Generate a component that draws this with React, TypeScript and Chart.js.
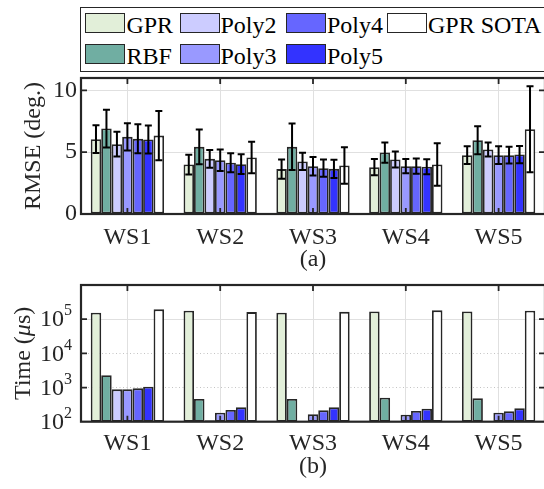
import React, { useEffect, useRef } from "react";
import { Chart, registerables } from "chart.js";

Chart.register(...registerables);

// ---------- data ----------
const CATEGORIES = ["WS1", "WS2", "WS3", "WS4", "WS5"];
const SERIES_NAMES = ["GPR", "RBF", "Poly2", "Poly3", "Poly4", "Poly5", "GPR SOTA"];
const SERIES_COLORS = ["#E2EFD9", "#70AEA2", "#CCCCFF", "#9999FF", "#6666FF", "#3333FF", "#FFFFFF"];

// RMSE (deg.) means
const RMSE_GPR = [6.05, 4.0, 3.63, 3.79, 4.76];
const RMSE_RBF = [6.91, 5.43, 5.43, 4.97, 5.97];
const RMSE_POLY2 = [5.65, 4.46, 4.25, 4.41, 5.22];
const RMSE_POLY3 = [6.24, 4.35, 3.87, 3.87, 4.76];
const RMSE_POLY4 = [6.08, 4.14, 3.71, 3.87, 4.76];
const RMSE_POLY5 = [6.02, 4.03, 3.65, 3.82, 4.81];
const RMSE_SOTA = [6.34, 4.57, 3.92, 4.0, 6.85];

// RMSE error (half-length of error bar)
const ERR_GPR = [1.12, 0.8, 0.78, 0.65, 0.72];
const ERR_RBF = [1.53, 1.4, 1.88, 0.82, 1.13];
const ERR_POLY2 = [1.0, 0.72, 0.7, 0.65, 0.57];
const ERR_POLY3 = [1.1, 0.87, 0.75, 0.58, 0.72];
const ERR_POLY4 = [1.17, 0.77, 0.7, 0.62, 0.68];
const ERR_POLY5 = [1.13, 0.8, 0.74, 0.6, 0.7];
const ERR_SOTA = [2.0, 1.28, 1.47, 1.72, 3.48];

// Time (µs)
const TIME_GPR = [155000, 176000, 155000, 169000, 169000];
const TIME_RBF = [2280, 460, 460, 503, 483];
const TIME_POLY2 = [885, 110, 105, 105, 105];
const TIME_POLY3 = [885, 183, 164, 160, 183];
const TIME_POLY4 = [947, 220, 215, 205, 201];
const TIME_POLY5 = [1055, 263, 263, 240, 246];
const TIME_SOTA = [194000, 161000, 164000, 181000, 176000];

const RMSE_SERIES = [RMSE_GPR, RMSE_RBF, RMSE_POLY2, RMSE_POLY3, RMSE_POLY4, RMSE_POLY5, RMSE_SOTA];
const ERR_SERIES = [ERR_GPR, ERR_RBF, ERR_POLY2, ERR_POLY3, ERR_POLY4, ERR_POLY5, ERR_SOTA];
const TIME_SERIES = [TIME_GPR, TIME_RBF, TIME_POLY2, TIME_POLY3, TIME_POLY4, TIME_POLY5, TIME_SOTA];

const RMSE_MIN = 0;
const RMSE_MAX = 11;
const RMSE_TICKS = [0, 5, 10];
const TIME_MIN = 1e2;
const TIME_MAX = 1e6;
const TIME_TICKS = [1e2, 1e3, 1e4, 1e5, 1e6];
const TIME_LABEL_EXPONENTS = [2, 3, 4, 5];

const RMSE_TITLE = "RMSE (deg.)";
const PANEL_A = "(a)";
const PANEL_B = "(b)";

// legend layout: rows of series indices (column-major as in the figure)
const LEGEND_ROWS = [
  [0, 2, 4, 6],
  [1, 3, 5],
];

// ---------- styles ----------
const FONT = '"Liberation Serif", "Times New Roman", serif';
const TEXT = "#262626";
const AXIS = "#262626";
const GRID = "#e0e0e0";
const GRID_DOT = "#c4c4c4";
const FS = 24;

function framePlugin(yTicks: number[]) {
  return {
    id: "frame",
    afterDraw(chart: any) {
      const { ctx, chartArea: a, scales } = chart;
      ctx.save();
      ctx.strokeStyle = AXIS;
      ctx.lineWidth = 1.8;
      const L = 6;
      ctx.beginPath();
      CATEGORIES.forEach((_, i) => {
        const x = scales.x.getPixelForValue(i);
        ctx.moveTo(x, a.bottom);
        ctx.lineTo(x, a.bottom - L);
        ctx.moveTo(x, a.top);
        ctx.lineTo(x, a.top + L);
      });
      yTicks.forEach((v) => {
        const y = scales.y.getPixelForValue(v);
        ctx.moveTo(a.left, y);
        ctx.lineTo(a.left + L, y);
        ctx.moveTo(a.right, y);
        ctx.lineTo(a.right - L, y);
      });
      ctx.stroke();
      ctx.lineWidth = 2.2;
      ctx.strokeRect(a.left, a.top, a.right - a.left, a.bottom - a.top);
      ctx.restore();
    },
  };
}

const errorBarPlugin = {
  id: "errorBars",
  afterDatasetsDraw(chart: any) {
    const { ctx, scales } = chart;
    ctx.save();
    ctx.strokeStyle = "#000";
    ctx.lineWidth = 2;
    const cap = 3.5;
    ERR_SERIES.forEach((errs, i) => {
      const meta = chart.getDatasetMeta(i);
      meta.data.forEach((bar: any, j: number) => {
        const m = RMSE_SERIES[i][j];
        const e = errs[j];
        const x = bar.x;
        const yt = scales.y.getPixelForValue(m + e);
        const yb = scales.y.getPixelForValue(m - e);
        ctx.beginPath();
        ctx.moveTo(x, yt);
        ctx.lineTo(x, yb);
        ctx.moveTo(x - cap, yt);
        ctx.lineTo(x + cap, yt);
        ctx.moveTo(x - cap, yb);
        ctx.lineTo(x + cap, yb);
        ctx.stroke();
      });
    });
    ctx.restore();
  },
};

const logLabelPlugin = {
  id: "logLabels",
  afterDraw(chart: any) {
    const { ctx, scales, chartArea: a } = chart;
    ctx.save();
    ctx.fillStyle = TEXT;
    ctx.textBaseline = "middle";
    const right = 72;
    TIME_LABEL_EXPONENTS.forEach((p) => {
      const y = scales.y.getPixelForValue(Math.pow(10, p));
      ctx.font = `16px ${FONT}`;
      const ew = ctx.measureText(String(p)).width;
      ctx.textAlign = "left";
      ctx.fillText(String(p), right - ew, y - 8);
      ctx.font = `${FS}px ${FONT}`;
      ctx.textAlign = "right";
      ctx.fillText("10", right - ew, y + 1);
    });
    // y title: Time (µs) with italic µ
    const parts = [
      { t: "Time (", f: `${FS}px ${FONT}` },
      { t: "\u03BC", f: `italic ${FS}px ${FONT}` },
      { t: "s)", f: `${FS}px ${FONT}` },
    ];
    let w = 0;
    const ws = parts.map((p) => {
      ctx.font = p.f;
      const m = ctx.measureText(p.t).width;
      w += m;
      return m;
    });
    ctx.translate(23.5, (a.top + a.bottom) / 2);
    ctx.rotate(-Math.PI / 2);
    ctx.textAlign = "left";
    let x = -w / 2;
    parts.forEach((p, i) => {
      ctx.font = p.f;
      ctx.fillText(p.t, x, 0);
      x += ws[i];
    });
    ctx.restore();
  },
};

function datasets(series: number[][]) {
  return SERIES_NAMES.map((name, i) => ({
    label: name,
    data: series[i],
    backgroundColor: SERIES_COLORS[i],
    borderColor: "#262626",
    borderWidth: 1.8,
    borderSkipped: false as any,
    categoryPercentage: 0.79,
    barPercentage: 1,
  }));
}

const tickFont = { family: FONT, size: FS, lineHeight: 1.2 };

export default function App() {
  const refA = useRef<HTMLCanvasElement>(null);
  const refB = useRef<HTMLCanvasElement>(null);

  useEffect(() => {
    const chartA = new Chart(refA.current as HTMLCanvasElement, {
      type: "bar",
      data: { labels: CATEGORIES, datasets: datasets(RMSE_SERIES) as any },
      options: {
        responsive: false,
        animation: false,
        events: [],
        layout: { padding: { left: 0, right: 1, top: 78, bottom: 0 } },
        plugins: { legend: { display: false }, tooltip: { enabled: false } },
        scales: {
          x: {
            grid: { offset: false, color: GRID, lineWidth: 1, drawTicks: false },
            border: { display: false },
            ticks: { color: TEXT, font: tickFont, padding: 9.1, maxRotation: 0, autoSkip: false },
            title: { display: true, text: PANEL_A, color: TEXT, font: tickFont, padding: { top: 0, bottom: 0.6 } },
            afterFit(s: any) {
              s.height = 61;
            },
          },
          y: {
            min: RMSE_MIN,
            max: RMSE_MAX,
            afterBuildTicks(s: any) {
              s.ticks = RMSE_TICKS.map((v) => ({ value: v }));
            },
            grid: { color: GRID, lineWidth: 1, drawTicks: false },
            border: { display: false },
            ticks: { color: TEXT, font: tickFont, padding: 4 },
            title: { display: true, text: RMSE_TITLE, color: TEXT, font: tickFont, padding: { top: 19.6, bottom: 0 } },
            afterFit(s: any) {
              s.width = 81;
            },
          },
        },
      } as any,
      plugins: [errorBarPlugin, framePlugin([5, 10])],
    });

    const chartB = new Chart(refB.current as HTMLCanvasElement, {
      type: "bar",
      data: { labels: CATEGORIES, datasets: datasets(TIME_SERIES) as any },
      options: {
        responsive: false,
        animation: false,
        events: [],
        layout: { padding: { left: 0, right: 1, top: 10, bottom: 0 } },
        plugins: { legend: { display: false }, tooltip: { enabled: false } },
        scales: {
          x: {
            grid: { offset: false, color: GRID, lineWidth: 1, drawTicks: false },
            border: { display: false },
            ticks: { color: TEXT, font: tickFont, padding: 7.4, maxRotation: 0, autoSkip: false },
            title: { display: true, text: PANEL_B, color: TEXT, font: tickFont, padding: { top: 0, bottom: 7.6 } },
            afterFit(s: any) {
              s.height = 67.3;
            },
          },
          y: {
            type: "logarithmic",
            min: TIME_MIN,
            max: TIME_MAX,
            afterBuildTicks(s: any) {
              s.ticks = TIME_TICKS.map((v) => ({ value: v }));
            },
            grid: {
              lineWidth: 1,
              drawTicks: false,
              color: (c: any) => (c.tick && (c.tick.value === 1e3 || c.tick.value === 1e4) ? GRID_DOT : GRID),
            },
            border: {
              display: false,
              dash: (c: any) => (c.tick && (c.tick.value === 1e3 || c.tick.value === 1e4) ? [1, 2.5] : []),
            },
            ticks: { display: false },
            afterFit(s: any) {
              s.width = 81;
            },
          },
        },
      } as any,
      plugins: [logLabelPlugin, framePlugin([1e3, 1e4, 1e5])],
    });

    return () => {
      chartA.destroy();
      chartB.destroy();
    };
  }, []);

  const colLeft = [85.4, 179.5, 286, 387];
  const rowTop = [13.3, 44];

  return (
    <div
      style={{
        position: "fixed",
        left: 0,
        top: 0,
        width: 544,
        height: 489,
        overflow: "hidden",
        background: "#fff",
      }}
    >
      <canvas
        ref={refA}
        width={546}
        height={275}
        style={{ position: "absolute", left: 0, top: 0, width: 546, height: 275 }}
      />
      <canvas
        ref={refB}
        width={546}
        height={214}
        style={{ position: "absolute", left: 0, top: 275, width: 546, height: 214 }}
      />
      <div
        style={{
          position: "absolute",
          left: 80,
          top: 7,
          width: 480,
          height: 65,
          border: "1.3px solid #262626",
          boxSizing: "border-box",
          background: "#fff",
        }}
      />
      {LEGEND_ROWS.map((row, r) =>
        row.map((si, c) => (
          <div
            key={si}
            style={{
              position: "absolute",
              left: colLeft[c],
              top: rowTop[r],
              height: 20,
              display: "flex",
              alignItems: "center",
              fontFamily: FONT,
              fontSize: FS,
              lineHeight: "20px",
              color: "#000",
              whiteSpace: "nowrap",
            }}
          >
            <span
              style={{
                display: "inline-block",
                width: 40,
                height: 20,
                boxSizing: "border-box",
                border: "1.5px solid #262626",
                background: SERIES_COLORS[si],
                marginRight: 1,
              }}
            />
            <span style={{ position: "relative", top: 1.5 }}>{SERIES_NAMES[si]}</span>
          </div>
        ))
      )}
    </div>
  );
}
